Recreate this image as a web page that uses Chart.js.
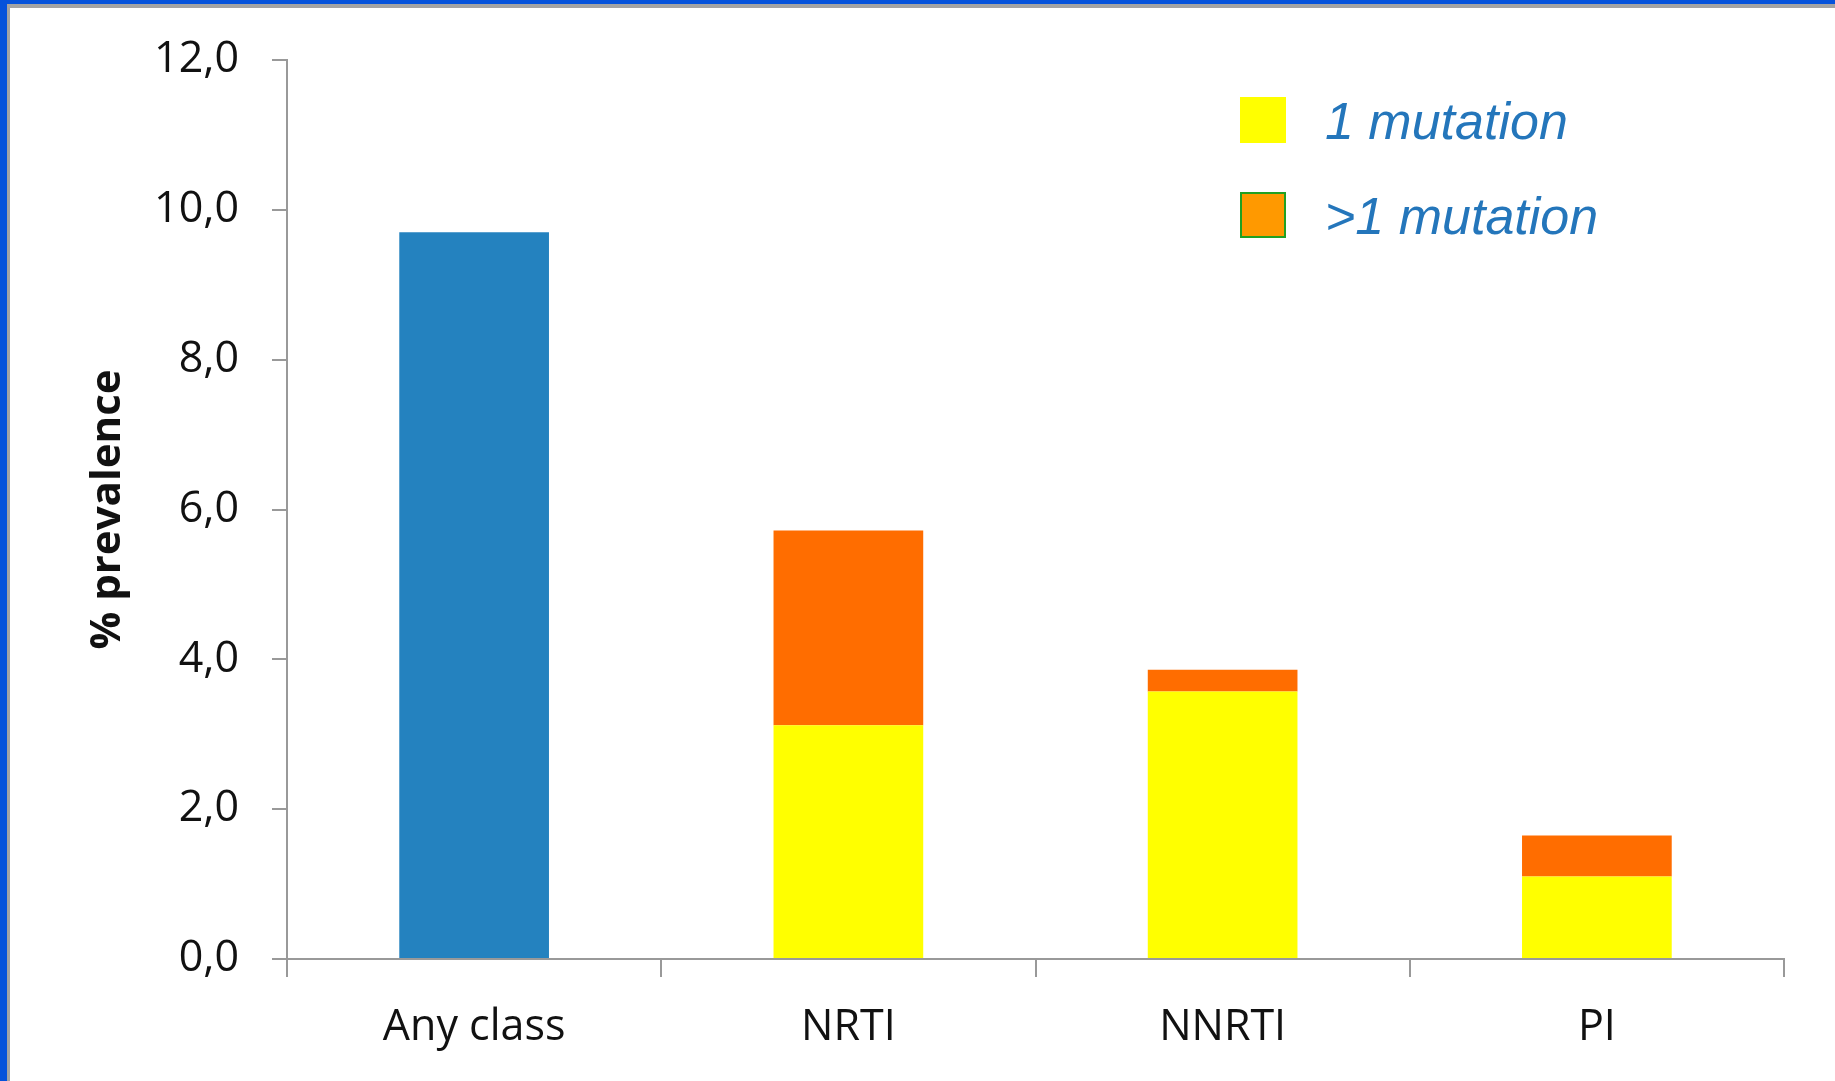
<!DOCTYPE html>
<html>
<head>
<meta charset="utf-8">
<script src="https://cdn.jsdelivr.net/npm/chart.js@4"></script>
<style>
  html, body { margin: 0; padding: 0; background: #fff; }
  #wrap { position: relative; width: 1835px; height: 1081px; overflow: hidden; }
  #chart { position: absolute; left: 0; top: 0; }
  #frame { position: absolute; left: 0; top: 0; width: 1835px; height: 1081px;
    border-left: 7px solid #0552db; border-top: 4px solid #0552db; box-sizing: border-box; pointer-events: none; }
  #frame div { width: 100%; height: 100%; border-left: 3px solid #a3a3a3; border-top: 4px solid #a3a3a3; box-sizing: border-box; }
  .key { position: absolute; left: 1240px; height: 52px; font: italic 52px "Liberation Sans", Arial, sans-serif;
    line-height: 52px; color: #2476bb; white-space: nowrap; }
  .key span { position: absolute; left: 0; width: 46px; height: 46px; box-sizing: border-box; }
  .key b { position: absolute; left: 85px; top: 0; font-weight: normal; }
</style>
</head>
<body>
<div id="wrap">
  <canvas id="chart" width="1835" height="1081"></canvas>
  <div id="frame"><div></div></div>
  <div id="legend"></div>
</div>
<script>
var categories = ["Any class", "NRTI", "NNRTI", "PI"];
var anyClass = [9.7, null, null, null];
var oneMutation = [null, 3.12, 3.57, 1.1];
var moreMutations = [null, 2.6, 0.29, 0.55];
var yTickLabels = ["0,0", "2,0", "4,0", "6,0", "8,0", "10,0", "12,0"];

var fontFamily = '"Open Sans", "DejaVu Sans", sans-serif';
var axisGrey = "#999999";

// legend entries, placed by hand in the upper right
var legendItems = [
  { label: "1 mutation", fill: "#ffff00", border: "#ffff00", top: 95 },
  { label: ">1 mutation", fill: "#ff9900", border: "#22a022", top: 190 },
];

function buildLegend() {
  var box = document.getElementById("legend");
  legendItems.forEach((item) => {
    var row = document.createElement("div");
    row.className = "key";
    row.style.top = item.top + "px";
    var sq = document.createElement("span");
    sq.style.top = "2px";
    sq.style.background = item.fill;
    sq.style.border = "2px solid " + item.border;
    var txt = document.createElement("b");
    txt.innerText = item.label;
    row.appendChild(sq);
    row.appendChild(txt);
    box.appendChild(row);
  });
}

function drawChart() {
  const ctx = document.getElementById("chart");
  new Chart(ctx, {
    type: "bar",
    data: {
      labels: categories,
      datasets: [
        { label: "Any class", data: anyClass, backgroundColor: "#2482bf", stack: "s" },
        { label: "1 mutation", data: oneMutation, backgroundColor: "#ffff00", stack: "s" },
        { label: ">1 mutation", data: moreMutations, backgroundColor: "#ff6d00", stack: "s" },
      ],
    },
    options: {
      responsive: false,
      animation: false,
      devicePixelRatio: 1,
      layout: { padding: { top: 60, right: 51, left: 0, bottom: 0 } },
      datasets: { bar: { categoryPercentage: 1, barPercentage: 0.4, borderWidth: 0 } },
      plugins: { legend: { display: false }, tooltip: { enabled: false } },
      scales: {
        x: {
          stacked: true,
          afterFit: (scale) => { scale.height = 122; },
          grid: { offset: true, drawOnChartArea: false, drawTicks: true, tickLength: 18, color: axisGrey, lineWidth: 2 },
          border: { display: true, color: axisGrey, width: 2 },
          ticks: { color: "#111", padding: 25, font: { family: fontFamily, size: 43 } },
        },
        y: {
          stacked: true,
          min: 0,
          max: 12,
          afterFit: (scale) => { scale.width = 287; },
          grid: { drawOnChartArea: false, drawTicks: true, tickLength: 15, color: axisGrey, lineWidth: 2 },
          border: { display: true, color: axisGrey, width: 2 },
          ticks: {
            stepSize: 2,
            padding: 33,
            color: "#111",
            font: { family: fontFamily, size: 43 },
            callback: (value, index) => yTickLabels[index],
          },
          title: {
            display: true,
            text: "% prevalence",
            color: "#111",
            padding: { top: 83, bottom: 0 },
            font: { family: fontFamily, size: 42, weight: "bold" },
          },
        },
      },
    },
  });
}

buildLegend();
drawChart();
</script>
</body>
</html>
